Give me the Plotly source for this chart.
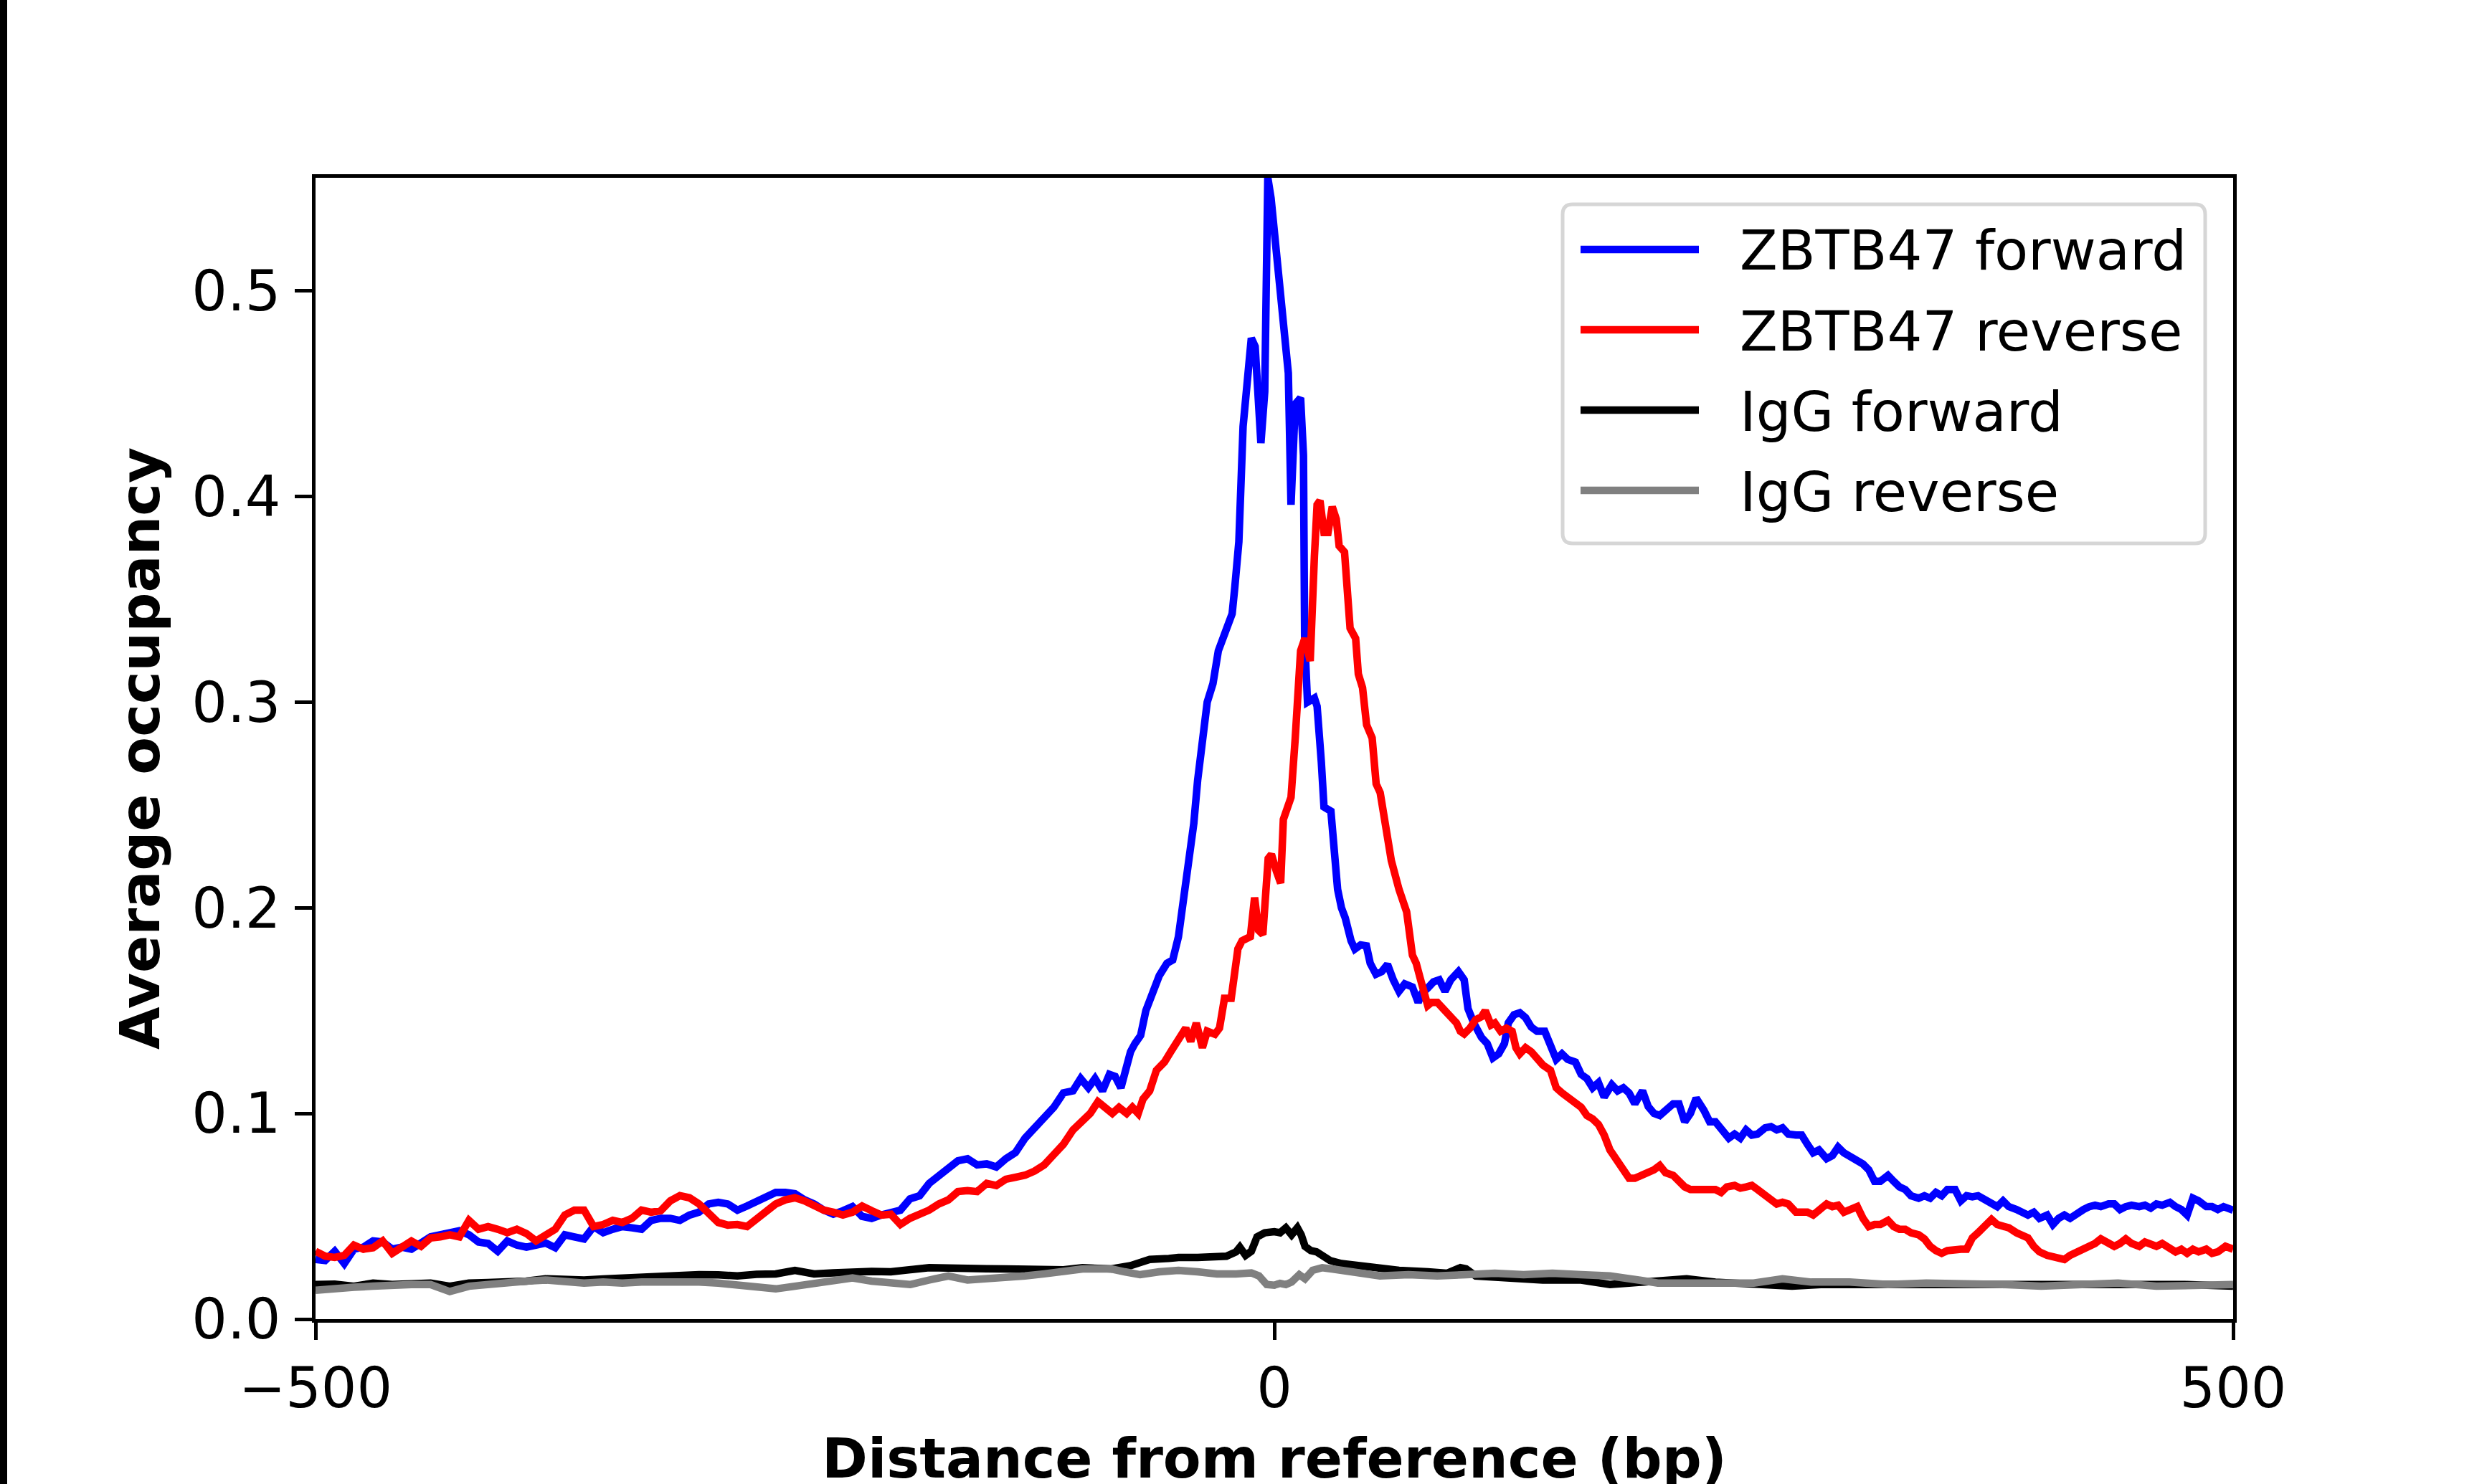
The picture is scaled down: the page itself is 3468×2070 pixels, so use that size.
import plotly.graph_objects as go

# ZBTB47 forward (blue) - distance (bp) / average occupancy
fwd_x = [-500, -495, -490, -485, -480, -475, -470, -465, -460, -455, -450, -445, -440, -435, -430, -425,
         -420, -415, -410, -405, -400, -395, -390, -385, -380, -375, -370, -365, -360, -355, -350, -345,
         -340, -335, -330, -325, -320, -315, -310, -305, -300, -295, -290, -285, -280, -275, -270, -265,
         -260, -255, -250, -245, -240, -235, -230, -225, -220, -215, -210, -205, -200, -195, -190, -185,
         -180, -175, -170, -165, -160, -155, -150, -145, -140, -135, -130, -125, -120, -115, -110, -105,
         -101, -97, -93.5, -89.6, -86, -83, -80, -75, -72.7, -69.7, -67, -64, -60, -56, -53, -50, -47,
         -44, -42, -40, -36.4, -35, -32, -29.2, -25.6, -22, -20.6, -18.5, -16.3, -13.4, -12, -10, -7, -5,
         -4.4, -3.4, -1.7, 0, 2.3, 5.2, 7.3, 8.7, 10.9, 13.7, 15.2, 15.8, 17.3, 20.9, 22.3, 24.5, 25.9,
         29.5, 31.6, 33, 35, 37, 40, 42, 45, 48, 50, 53, 56, 59, 62, 65, 68, 72, 75, 77, 80, 83, 86, 89,
         92, 96, 99, 101, 104, 108, 111, 114, 117, 120, 122, 125, 128, 131, 134, 137, 141, 144, 147, 150,
         153, 157, 160, 163, 166, 169, 172, 176, 179, 182, 185, 188, 192, 195, 198, 201, 204, 208, 211,
         214, 217, 220, 224, 227, 230, 233, 237, 240, 243, 246, 249, 252, 256, 259, 262, 265, 268, 272,
         275, 278, 281, 284, 288, 291, 294, 297, 300, 304, 307, 310, 313, 316, 320, 323, 326, 329, 332,
         336, 339, 342, 345, 348, 351, 355, 358, 361, 364, 367, 371, 374, 377, 380, 383, 387, 390, 393,
         396, 399, 403, 406, 409, 412, 415, 419, 422, 425, 428, 431, 435, 438, 441, 444, 447, 451, 454,
         457, 460, 463, 467, 470, 473, 476, 479, 482, 486, 489, 492, 495, 500]
fwd_y = [0.029, 0.0285, 0.033, 0.027, 0.034, 0.035, 0.038, 0.0375, 0.034, 0.035, 0.034, 0.0375, 0.040,
         0.041, 0.0416, 0.043, 0.041, 0.0375, 0.0368, 0.033, 0.038, 0.036, 0.035, 0.036, 0.037, 0.0347,
         0.041, 0.040, 0.039, 0.045, 0.042, 0.0437, 0.045, 0.0444, 0.0437, 0.048, 0.049, 0.049, 0.048,
         0.0506, 0.052, 0.056, 0.0568, 0.056, 0.053, 0.055, 0.0575, 0.0595, 0.0616, 0.0616, 0.061, 0.058,
         0.056, 0.053, 0.051, 0.0527, 0.0547, 0.050, 0.049, 0.0506, 0.052, 0.053, 0.0585, 0.060, 0.066,
         0.070, 0.073, 0.077, 0.078, 0.075, 0.0755, 0.074, 0.078, 0.081, 0.088, 0.093, 0.097, 0.103,
         0.110, 0.111, 0.117, 0.1125, 0.117, 0.111, 0.119, 0.118, 0.1125, 0.130, 0.134, 0.138, 0.150,
         0.158, 0.167, 0.173, 0.1746, 0.186, 0.205, 0.228, 0.241, 0.262, 0.287, 0.300, 0.309, 0.325,
         0.334, 0.343, 0.356, 0.378, 0.434, 0.458, 0.477, 0.473, 0.426, 0.451, 0.545, 0.555, 0.545,
         0.529, 0.511, 0.487, 0.460, 0.396, 0.445, 0.448, 0.420, 0.331, 0.300, 0.302, 0.298, 0.271,
         0.249, 0.247, 0.227, 0.209, 0.200, 0.195, 0.184, 0.180, 0.182, 0.1815, 0.173, 0.1677, 0.169,
         0.1725, 0.165, 0.1594, 0.163, 0.1615, 0.154, 0.1585, 0.161, 0.164, 0.165, 0.1594, 0.165, 0.169,
         0.165, 0.151, 0.144, 0.137, 0.134, 0.127, 0.129, 0.134, 0.144, 0.148, 0.149, 0.1466, 0.142,
         0.140, 0.140, 0.134, 0.1263, 0.129, 0.1263, 0.125, 0.119, 0.117, 0.1125, 0.115, 0.108, 0.114,
         0.111, 0.1125, 0.110, 0.1047, 0.111, 0.1033, 0.100, 0.099, 0.1016, 0.1047, 0.1047, 0.096, 0.100,
         0.1074, 0.1016, 0.096, 0.096, 0.092, 0.088, 0.090, 0.088, 0.092, 0.0895, 0.090, 0.093, 0.0936,
         0.092, 0.093, 0.090, 0.0895, 0.0895, 0.085, 0.0809, 0.0823, 0.078, 0.0795, 0.0836, 0.0809,
         0.0795, 0.077, 0.0754, 0.0726, 0.067, 0.067, 0.0699, 0.067, 0.0643, 0.063, 0.060, 0.0588, 0.060,
         0.0588, 0.0616, 0.060, 0.063, 0.063, 0.0575, 0.060, 0.0595, 0.060, 0.058, 0.056, 0.0547, 0.0575,
         0.0547, 0.0533, 0.052, 0.0506, 0.052, 0.049, 0.0506, 0.046, 0.049, 0.0506, 0.049, 0.052, 0.0533,
         0.0547, 0.0554, 0.0547, 0.056, 0.056, 0.0533, 0.0547, 0.0554, 0.0547, 0.0554, 0.054, 0.056,
         0.0554, 0.0568, 0.0547, 0.0533, 0.0506, 0.0588, 0.0575, 0.0547, 0.0547, 0.0533, 0.0547, 0.053]

# ZBTB47 reverse (red)
rev_x = [-500, -495, -490, -485, -480, -475, -470, -465, -460, -455, -450, -445, -440, -435, -430, -425,
         -420, -415, -410, -405, -400, -395, -390, -385, -380, -375, -370, -365, -360, -355, -350, -345,
         -340, -335, -330, -325, -320, -315, -310, -305, -300, -295, -290, -285, -280, -275, -270, -265,
         -260, -255, -250, -245, -240, -235, -230, -225, -220, -215, -210, -205, -200, -195, -190, -185,
         -180, -175, -170, -165, -160, -155, -150, -145, -140, -135, -130, -125, -120, -115, -110, -105,
         -100, -96, -92, -88, -84.5, -81, -77, -74, -71, -68.5, -65, -61.5, -57.3, -54, -49.4, -46.2,
         -43.6, -40.7, -37.5, -35, -31, -28.6, -26, -22.5, -19, -16.8, -12.5, -10.3, -8.2, -6, -3.2,
         -1.5, 1, 3.3, 4.7, 8.7, 10.9, 13.7, 15.9, 18.7, 20.9, 22.3, 23.8, 25.9, 28, 30.2, 32.3, 33.8,
         36.6, 38.1, 39.5, 42.4, 43.8, 46, 48.1, 51, 53.1, 55.2, 58.1, 61, 65, 69, 72, 74, 76, 78, 80,
         82, 85, 88, 91, 93, 95, 97, 99, 102, 105, 108, 110, 113, 115, 118, 121, 124, 126, 128, 131,
         134, 137, 140, 144, 147, 150, 153, 156, 160, 163, 166, 169, 172, 175, 178, 182, 185, 188, 192,
         195, 198, 201, 204, 208, 211, 214, 217, 220, 224, 227, 230, 233, 236, 240, 243, 246, 249, 252,
         256, 259, 262, 265, 268, 272, 275, 278, 281, 284, 288, 291, 294, 297, 300, 304, 307, 310, 313,
         316, 320, 323, 326, 329, 332, 336, 339, 342, 345, 348, 351, 355, 358, 361, 364, 367, 371, 374,
         377, 380, 383, 387, 390, 393, 396, 399, 403, 406, 409, 412, 415, 419, 422, 425, 428, 431, 435,
         438, 441, 444, 447, 451, 454, 457, 460, 463, 467, 470, 473, 476, 479, 482, 486, 489, 492, 496,
         500]
rev_y = [0.033, 0.0306, 0.030, 0.031, 0.036, 0.034, 0.0347, 0.038, 0.032, 0.0354, 0.038, 0.0354, 0.0395,
         0.040, 0.041, 0.040, 0.048, 0.0437, 0.045, 0.0437, 0.042, 0.0437, 0.0416, 0.038, 0.041, 0.0437,
         0.0506, 0.053, 0.053, 0.045, 0.046, 0.048, 0.047, 0.049, 0.053, 0.052, 0.0527, 0.0575, 0.060,
         0.059, 0.056, 0.052, 0.047, 0.0457, 0.046, 0.045, 0.0485, 0.053, 0.056, 0.058, 0.059, 0.0575,
         0.055, 0.053, 0.052, 0.0506, 0.052, 0.055, 0.0527, 0.0506, 0.051, 0.046, 0.049, 0.051, 0.053,
         0.056, 0.058, 0.062, 0.0625, 0.062, 0.066, 0.065, 0.068, 0.069, 0.070, 0.072, 0.075, 0.080,
         0.085, 0.092, 0.096, 0.100, 0.1057, 0.103, 0.100, 0.103, 0.100, 0.103, 0.100, 0.107, 0.111,
         0.121, 0.125, 0.130, 0.1367, 0.1415, 0.135, 0.144, 0.132, 0.140, 0.1385, 0.1415, 0.156, 0.156,
         0.180, 0.184, 0.186, 0.205, 0.189, 0.187, 0.224, 0.226, 0.218, 0.212, 0.243, 0.2537, 0.2826,
         0.325, 0.331, 0.320, 0.371, 0.396, 0.398, 0.3825, 0.3825, 0.395, 0.389, 0.376, 0.373, 0.354,
         0.336, 0.331, 0.3137, 0.307, 0.289, 0.2826, 0.2603, 0.256, 0.238, 0.223, 0.209, 0.198, 0.177,
         0.173, 0.166, 0.159, 0.1525, 0.154, 0.154, 0.151, 0.148, 0.1456, 0.144, 0.140, 0.1387, 0.1415,
         0.1456, 0.147, 0.150, 0.143, 0.144, 0.140, 0.1415, 0.140, 0.132, 0.129, 0.132, 0.130, 0.1263,
         0.1236, 0.121, 0.1125, 0.110, 0.108, 0.1057, 0.103, 0.099, 0.0974, 0.0947, 0.0895, 0.0823,
         0.078, 0.0726, 0.0685, 0.0685, 0.0699, 0.0712, 0.0726, 0.0747, 0.0712, 0.0699, 0.067, 0.0643,
         0.063, 0.063, 0.0623, 0.063, 0.063, 0.0616, 0.0643, 0.065, 0.0637, 0.0643, 0.065, 0.063, 0.060,
         0.0575, 0.056, 0.0568, 0.056, 0.052, 0.052, 0.052, 0.0506, 0.0533, 0.056, 0.0547, 0.0554, 0.052,
         0.0533, 0.0547, 0.049, 0.045, 0.046, 0.046, 0.048, 0.045, 0.0437, 0.0437, 0.042, 0.041, 0.039,
         0.0354, 0.0333, 0.032, 0.0333, 0.034, 0.034, 0.034, 0.0395, 0.042, 0.0457, 0.0485, 0.046, 0.045,
         0.0444, 0.042, 0.041, 0.0395, 0.0354, 0.0327, 0.031, 0.0306, 0.030, 0.029, 0.031, 0.0327, 0.034,
         0.0354, 0.0368, 0.039, 0.0368, 0.0354, 0.0368, 0.039, 0.0368, 0.0354, 0.0375, 0.0368, 0.0354,
         0.0368, 0.0347, 0.0327, 0.034, 0.032, 0.034, 0.0327, 0.034, 0.032, 0.0327, 0.0354, 0.034]

# IgG forward (black)
igg_fwd_x = [-500, -490, -480, -470, -460, -450, -440, -430, -420, -410, -400, -390, -380, -370, -360,
             -350, -340, -330, -320, -310, -305, -300, -290, -280, -270, -260, -250, -240, -230, -220,
             -210, -200, -190, -180, -170, -160, -150, -140, -130, -120, -110, -100, -90, -85, -75, -65,
             -55, -50, -40, -35, -25, -20, -18, -15, -12, -9, -5, 0, 3, 6, 9, 12, 14, 16, 19, 22, 26, 29,
             35, 45, 55, 65, 80, 90, 97, 100, 105, 115, 125, 140, 160, 175, 185, 200, 215, 230, 250, 270,
             285, 300, 320, 340, 360, 380, 400, 420, 440, 460, 475, 500]
igg_fwd_y = [0.0168, 0.017, 0.016, 0.0175, 0.0168, 0.017, 0.0175, 0.016, 0.0175, 0.0178, 0.018, 0.0185,
             0.0196, 0.019, 0.019, 0.0195, 0.020, 0.0205, 0.021, 0.0215, 0.022, 0.0216, 0.0215, 0.021,
             0.0218, 0.022, 0.0237, 0.022, 0.0225, 0.023, 0.0232, 0.023, 0.024, 0.025, 0.0248, 0.025,
             0.0245, 0.0244, 0.024, 0.0237, 0.024, 0.025, 0.0245, 0.0244, 0.026, 0.029, 0.0295, 0.030,
             0.030, 0.030, 0.0306, 0.0327, 0.035, 0.031, 0.033, 0.040, 0.042, 0.0425, 0.042, 0.0444, 0.041,
             0.0444, 0.041, 0.0354, 0.0333, 0.0327, 0.030, 0.0285, 0.027, 0.0258, 0.0244, 0.0237, 0.023,
             0.0223, 0.025, 0.0244, 0.021, 0.0203, 0.0196, 0.019, 0.019, 0.0168, 0.0175, 0.019, 0.0196,
             0.018, 0.0168, 0.016, 0.0168, 0.0168, 0.0168, 0.0175, 0.0175, 0.0168, 0.0175, 0.0168, 0.0168,
             0.0168, 0.0168, 0.016]

# IgG reverse (grey)
igg_rev_x = [-500, -490, -480, -470, -460, -450, -440, -430, -420, -410, -400, -390, -380, -370, -360,
             -350, -340, -330, -320, -310, -300, -290, -280, -270, -260, -250, -240, -230, -220, -210,
             -200, -190, -180, -170, -160, -150, -140, -130, -120, -110, -100, -90, -85, -78, -70, -60,
             -50, -40, -30, -20, -12, -8, -4, 0, 3, 6, 9, 13, 16, 20, 25, 30, 40, 55, 70, 85, 100, 115,
             130, 145, 160, 175, 190, 200, 215, 230, 250, 265, 280, 300, 320, 340, 360, 380, 400, 420,
             440, 460, 480, 500]
igg_rev_y = [0.014, 0.015, 0.0155, 0.016, 0.0168, 0.0168, 0.0168, 0.0134, 0.016, 0.017, 0.0175, 0.0185,
             0.019, 0.018, 0.0175, 0.018, 0.0175, 0.018, 0.018, 0.0185, 0.018, 0.0175, 0.0168, 0.016,
             0.0147, 0.016, 0.0175, 0.019, 0.020, 0.0185, 0.0175, 0.0168, 0.019, 0.021, 0.019, 0.0195,
             0.020, 0.021, 0.022, 0.023, 0.0244, 0.0244, 0.0244, 0.023, 0.0216, 0.023, 0.0237, 0.023,
             0.022, 0.022, 0.0225, 0.021, 0.0168, 0.0165, 0.0174, 0.0168, 0.018, 0.0216, 0.0196, 0.0237,
             0.025, 0.0244, 0.023, 0.021, 0.0216, 0.021, 0.0216, 0.0223, 0.0216, 0.0223, 0.0216, 0.021,
             0.019, 0.0175, 0.0175, 0.0175, 0.0175, 0.0196, 0.018, 0.018, 0.0168, 0.0175, 0.0175, 0.0168,
             0.016, 0.0168, 0.0175, 0.016, 0.016, 0.0168]

series_names = ["ZBTB47 forward", "ZBTB47 reverse", "IgG forward", "IgG reverse"]
series_colors = ["#0000ff", "#ff0000", "#000000", "#808080"]

x_tickvals = [-500, 0, 500]
x_ticktext = ["\u2212500", "0", "500"]
y_tickvals = [0.0, 0.1, 0.2, 0.3, 0.4, 0.5]
y_ticktext = ["0.0", "0.1", "0.2", "0.3", "0.4", "0.5"]

FONT = "DejaVu Sans"
W, H = 3468, 2070
L, R, T, B = 440, 354, 248, 230
PW, PH = W - L - R, H - T - B


def px_x(px):
    # pixel column -> paper x
    return (px - L) / PW


def px_y(py):
    # pixel row -> paper y
    return (H - B - py) / PH


fig = go.Figure()
for xs, ys, name, color in zip([fwd_x, rev_x, igg_fwd_x, igg_rev_x],
                               [fwd_y, rev_y, igg_fwd_y, igg_rev_y],
                               series_names, series_colors):
    fig.add_trace(go.Scatter(x=xs, y=ys, mode="lines", name=name,
                             line=dict(color=color, width=10.5), showlegend=False))

axis_style = dict(showline=True, linecolor="black", linewidth=5, mirror=True,
                  ticks="outside", ticklen=24, tickwidth=5, tickcolor="black",
                  showgrid=False, zeroline=False,
                  tickfont=dict(family=FONT, size=78, color="black"))

fig.update_xaxes(range=[-500, 500], tickvals=x_tickvals, ticktext=x_ticktext,
                 ticklabelstandoff=0, **axis_style)
fig.update_yaxes(range=[0, 0.555], tickvals=y_tickvals, ticktext=y_ticktext,
                 ticklabelstandoff=4, **axis_style)

# legend drawn by hand so the sample lines have matplotlib's length
bx0, bx1, by0, by1 = px_x(2179), px_x(3075), px_y(758), px_y(285)
rx, ry = 14 / PW, 14 / PH
box_path = (f"M{bx0 + rx},{by0} L{bx1 - rx},{by0} Q{bx1},{by0} {bx1},{by0 + ry} "
            f"L{bx1},{by1 - ry} Q{bx1},{by1} {bx1 - rx},{by1} L{bx0 + rx},{by1} "
            f"Q{bx0},{by1} {bx0},{by1 - ry} L{bx0},{by0 + ry} Q{bx0},{by0} {bx0 + rx},{by0} Z")

shapes = [
    dict(type="rect", xref="paper", yref="paper", x0=px_x(-5), x1=px_x(10), y0=-0.3, y1=1.3,
         fillcolor="black", line=dict(width=0), layer="above"),
    dict(type="path", xref="paper", yref="paper", path=box_path, fillcolor="white",
         line=dict(color="#d6d6d6", width=5), layer="above"),
]
annotations = []
rows = [348, 460, 572, 684]
for row, name, color in zip(rows, series_names, series_colors):
    shapes.append(dict(type="line", xref="paper", yref="paper", x0=px_x(2204), x1=px_x(2369),
                       y0=px_y(row), y1=px_y(row), line=dict(color=color, width=10.5), layer="above"))
    annotations.append(dict(xref="paper", yref="paper", x=px_x(2424), y=px_y(row + 2),
                            xanchor="left", yanchor="middle", showarrow=False, text=name,
                            font=dict(family=FONT, size=77, color="black")))

annotations.append(dict(xref="paper", yref="paper", x=0.5, y=px_y(1988), xanchor="center",
                        yanchor="top", showarrow=False, text="<b>Distance from reference (bp)</b>",
                        font=dict(family=FONT, size=77, color="black")))
annotations.append(dict(xref="paper", yref="paper", x=px_x(195), y=0.5, xanchor="center",
                        yanchor="middle", showarrow=False, textangle=-90,
                        text="<b>Average occupancy</b>",
                        font=dict(family=FONT, size=77, color="black")))

fig.update_layout(width=W, height=H, margin=dict(l=L, r=R, t=T, b=B, autoexpand=False),
                  paper_bgcolor="white", plot_bgcolor="white",
                  shapes=shapes, annotations=annotations, showlegend=False)

# the page's default 8px body margin would push the figure off the window origin
fig.write_html("out.html", config={"displayModeBar": False},
               post_script="document.body.style.margin = '0';")
